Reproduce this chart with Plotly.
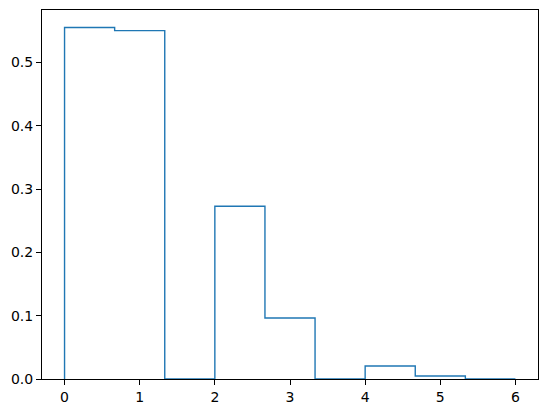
import numpy as np
import plotly.graph_objects as go

# density histogram, 9 bins between 0 and 6
bin_start = 0.0
bin_end = 6.0
density = [0.5553, 0.5505, 0.0, 0.2730, 0.0963, 0.0, 0.0205, 0.0047, 0.0]
x_ticks = [0, 1, 2, 3, 4, 5, 6]
y_ticks = [0.0, 0.1, 0.2, 0.3, 0.4, 0.5]

edges = np.linspace(bin_start, bin_end, len(density) + 1)

# matplotlib-like histtype='step' outline
xs = [edges[0]]
ys = [0.0]
for i, h in enumerate(density):
    xs += [edges[i], edges[i + 1]]
    ys += [h, h]
xs.append(edges[-1])
ys.append(0.0)

fig = go.Figure()
fig.add_trace(go.Scatter(x=xs, y=ys, mode='lines',
                         line=dict(color='#1f77b4', width=1.4),
                         hoverinfo='skip', showlegend=False))

span = bin_end - bin_start
ymax = max(density)

axis_style = dict(showline=True, linecolor='black', linewidth=1.1, mirror=True,
                  showgrid=False, zeroline=False, ticks='outside', ticklen=5,
                  tickwidth=1.1, tickcolor='black',
                  tickfont=dict(family='DejaVu Sans', size=14, color='black'))

fig.update_xaxes(range=[bin_start - 0.05 * span, bin_end + 0.05 * span],
                 tickvals=x_ticks, automargin=False, **axis_style)
fig.update_yaxes(range=[0, ymax * 1.05], tickvals=y_ticks, tickformat='.1f',
                 automargin=False, **axis_style)

fig.update_layout(width=547, height=413,
                  margin=dict(l=42, r=9, t=10, b=34, autoexpand=False),
                  plot_bgcolor='white', paper_bgcolor='white')

# drop the page's default body margin so the figure sits at the top left
fig.write_html("out.html", config={'displayModeBar': False},
               post_script="document.body.style.margin='0';")
